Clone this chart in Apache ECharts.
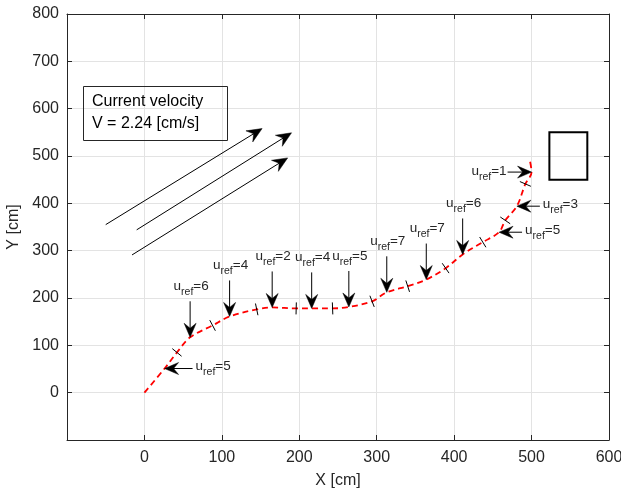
<!DOCTYPE html>
<html><head><meta charset="utf-8">
<script src="https://cdn.jsdelivr.net/npm/echarts@6/dist/echarts.min.js"></script>
<style>html,body{margin:0;padding:0;background:#fff;overflow:hidden}#c{width:621px;height:491px}</style>
</head><body><div id="c"></div>
<script>
// Planned path (red dashed)
const pathX = [0, 26, 42, 59, 88, 110, 145, 165, 196, 216, 243, 264, 294, 313, 340, 364, 389, 411, 437, 458, 466, 481, 492, 500, 498];
const pathY = [0, 51, 85, 117, 142, 161, 176, 180, 178, 178, 178, 181, 193, 212, 225, 239, 263, 292, 318, 339, 364, 394, 441, 466, 489];
// Segment boundary marks on path
const markX = [42, 88, 145, 196, 243, 294, 340, 389, 437, 466, 492];
const markY = [85, 142, 176, 178, 178, 193, 225, 263, 318, 364, 441];
// u_ref annotations (arrow tip on path)
const urefX = [26, 59, 110, 165, 216, 264, 313, 364, 411, 458, 481, 500];
const urefY = [51, 117, 161, 180, 178, 181, 212, 239, 292, 339, 394, 466];
const urefVal = [5, 6, 4, 2, 4, 5, 7, 7, 6, 5, 3, 1];
const urefDir = ['left', 'down', 'down', 'down', 'down', 'down', 'down', 'down', 'down', 'left', 'left', 'right'];
// Current flow arrows
const flowX0 = [-50, -10, -16];
const flowY0 = [355, 344, 291];
const flowX1 = [152, 190, 185];
const flowY1 = [558, 549, 496];
// Target box
const boxX = [523, 572];
const boxY = [450, 550];

const FONT = '"Liberation Sans", Arial, Helvetica, sans-serif';
const DARK = '#262626';

const mctx = document.createElement('canvas').getContext('2d');
function tw(t, size) { mctx.font = size + 'px ' + FONT; return mctx.measureText(t).width; }

function head(tx, ty, dx, dy, len, wid, notch) {
  const px = -dy, py = dx;
  const bx = tx - dx * len, by = ty - dy * len;
  return [[tx, ty], [bx + px * wid / 2, by + py * wid / 2], [tx - dx * (len - notch), ty - dy * (len - notch)], [bx - px * wid / 2, by - py * wid / 2]];
}

const FS = 13.5, FSUB = 10.5;
function labelEls(x, midY, val, anchor) {
  const s1 = 'u', s2 = 'ref', s3 = '=' + val;
  const w1 = tw(s1, FS), w2 = tw(s2, FSUB), w3 = tw(s3, FS);
  const W = w1 + w2 + w3;
  let x0 = x;
  if (anchor === 'center') x0 = x - W / 2;
  else if (anchor === 'right') x0 = x - W;
  const mk = (t, xx, yy, sz) => ({type: 'text', style: {text: t, x: xx, y: yy, font: sz + 'px ' + FONT, fill: DARK, textAlign: 'left', textVerticalAlign: 'middle', align: 'left', verticalAlign: 'middle'}});
  return [mk(s1, x0, midY, FS), mk(s2, x0 + w1, midY + 6, FSUB), mk(s3, x0 + w1 + w2, midY, FS)];
}

const chart = echarts.init(document.getElementById('c'));

const axisCommon = {
  type: 'value', min: -100, max: 600, interval: 100
};

chart.setOption({
  animation: false,
  grid: {left: 67, right: 12, top: 14, bottom: 51, containLabel: false, outerBoundsMode: 'none'},
  xAxis: [
    Object.assign({}, axisCommon, {
      position: 'bottom', name: 'X [cm]', nameLocation: 'middle', nameGap: 33,
      nameTextStyle: {fontFamily: FONT, fontSize: 16, color: DARK},
      axisLine: {show: true, onZero: false, lineStyle: {color: DARK, width: 1}},
      axisTick: {show: true, inside: true, length: 5, lineStyle: {color: DARK}},
      axisLabel: {fontFamily: FONT, fontSize: 16, color: DARK, margin: 10, formatter: v => v === -100 ? '' : String(v)},
      splitLine: {show: true, lineStyle: {color: '#e3e3e3', width: 1}}
    }),
    Object.assign({}, axisCommon, {
      position: 'top',
      axisLine: {show: true, onZero: false, lineStyle: {color: DARK, width: 1}},
      axisTick: {show: true, inside: true, length: 5, lineStyle: {color: DARK}},
      axisLabel: {show: false}, splitLine: {show: false}
    })
  ],
  yAxis: [
    {
      type: 'value', min: -100, max: 800, interval: 100, position: 'left',
      name: 'Y [cm]', nameLocation: 'middle', nameGap: 41, nameRotate: 90,
      nameTextStyle: {fontFamily: FONT, fontSize: 16, color: DARK},
      axisLine: {show: true, onZero: false, lineStyle: {color: DARK, width: 1}},
      axisTick: {show: true, inside: true, length: 5, lineStyle: {color: DARK}},
      axisLabel: {fontFamily: FONT, fontSize: 16, color: DARK, margin: 8, formatter: v => v === -100 ? '' : String(v)},
      splitLine: {show: true, lineStyle: {color: '#e3e3e3', width: 1}}
    },
    {
      type: 'value', min: -100, max: 800, interval: 100, position: 'right',
      axisLine: {show: true, onZero: false, lineStyle: {color: DARK, width: 1}},
      axisTick: {show: true, inside: true, length: 5, lineStyle: {color: DARK}},
      axisLabel: {show: false}, splitLine: {show: false}
    }
  ],
  graphic: [
    {type: 'rect', shape: {x: 83.5, y: 86.5, width: 144, height: 54}, style: {fill: 'none', stroke: DARK, lineWidth: 1}, z: 100},
    {type: 'text', style: {text: 'Current velocity', x: 92, y: 102, font: '16px ' + FONT, fill: '#000', textVerticalAlign: 'middle', verticalAlign: 'middle'}, z: 100},
    {type: 'text', style: {text: 'V = 2.24 [cm/s]', x: 92, y: 124, font: '16px ' + FONT, fill: '#000', textVerticalAlign: 'middle', verticalAlign: 'middle'}, z: 100}
  ],
  series: [
    {
      type: 'line', xAxisIndex: 0, yAxisIndex: 0,
      data: pathX.map((x, i) => [x, pathY[i]]),
      smooth: 0.35, showSymbol: false, symbol: 'none',
      lineStyle: {color: '#ff0000', width: 1.8, type: [6, 4]}, z: 3
    },
    {
      type: 'custom', xAxisIndex: 0, yAxisIndex: 0,
      data: markX.map((x, i) => [x, markY[i]]),
      renderItem: function (params, api) {
        const x = api.value(0), y = api.value(1);
        let bi = 0, bd = Infinity;
        for (let i = 0; i < pathX.length; i++) {
          const d = (pathX[i] - x) ** 2 + (pathY[i] - y) ** 2;
          if (d < bd) { bd = d; bi = i; }
        }
        const a = api.coord([pathX[Math.max(bi - 1, 0)], pathY[Math.max(bi - 1, 0)]]);
        const b = api.coord([pathX[Math.min(bi + 1, pathX.length - 1)], pathY[Math.min(bi + 1, pathX.length - 1)]]);
        const c = api.coord([x, y]);
        let dx = b[0] - a[0], dy = b[1] - a[1];
        const L = Math.hypot(dx, dy); dx /= L; dy /= L;
        const nx = -dy, ny = dx, h = 6;
        return {type: 'line', shape: {x1: c[0] - nx * h, y1: c[1] - ny * h, x2: c[0] + nx * h, y2: c[1] + ny * h}, style: {stroke: '#000', lineWidth: 1}};
      }, z: 4
    },
    {
      type: 'custom', xAxisIndex: 0, yAxisIndex: 0,
      data: urefX.map((x, i) => [x, urefY[i], i]),
      renderItem: function (params, api) {
        const i = api.value(2);
        const t = api.coord([api.value(0), api.value(1)]);
        const dir = urefDir[i];
        let dx, dy, len, tail;
        if (dir === 'down') { dx = 0; dy = 1; len = 36; }
        else if (dir === 'left') { dx = -1; dy = 0; len = (i === 0 ? 28 : 23); }
        else { dx = 1; dy = 0; len = 24; }
        tail = [t[0] - dx * len, t[1] - dy * len];
        const els = [
          {type: 'line', shape: {x1: tail[0], y1: tail[1], x2: t[0] - dx * 8, y2: t[1] - dy * 8}, style: {stroke: '#000', lineWidth: 1}},
          {type: 'polygon', shape: {points: head(t[0], t[1], dx, dy, 14, 12, 5)}, style: {fill: '#000', stroke: '#000', lineWidth: 0.5}}
        ];
        let labs;
        if (dir === 'down') labs = labelEls(tail[0] + 1, tail[1] - 15, urefVal[i], 'center');
        else if (dir === 'left') labs = labelEls(tail[0] + 3, t[1] - 2, urefVal[i], 'left');
        else labs = labelEls(tail[0] - 1, t[1] - 1, urefVal[i], 'right');
        return {type: 'group', children: els.concat(labs)};
      }, z: 5
    },
    {
      type: 'custom', xAxisIndex: 0, yAxisIndex: 0,
      data: flowX0.map((x, i) => [x, flowY0[i], flowX1[i], flowY1[i]]),
      renderItem: function (params, api) {
        const s = api.coord([api.value(0), api.value(1)]);
        const e = api.coord([api.value(2), api.value(3)]);
        let dx = e[0] - s[0], dy = e[1] - s[1];
        const L = Math.hypot(dx, dy); dx /= L; dy /= L;
        return {type: 'group', children: [
          {type: 'line', shape: {x1: s[0], y1: s[1], x2: e[0] - dx * 8, y2: e[1] - dy * 8}, style: {stroke: '#000', lineWidth: 1}},
          {type: 'polygon', shape: {points: head(e[0], e[1], dx, dy, 15, 13, 5)}, style: {fill: '#000', stroke: '#000', lineWidth: 0.5}}
        ]};
      }, z: 5
    },
    {
      type: 'custom', xAxisIndex: 0, yAxisIndex: 0,
      data: [[boxX[0], boxY[0], boxX[1], boxY[1]]],
      renderItem: function (params, api) {
        const a = api.coord([api.value(0), api.value(3)]);
        const b = api.coord([api.value(2), api.value(1)]);
        return {type: 'rect', shape: {x: a[0], y: a[1], width: b[0] - a[0], height: b[1] - a[1]}, style: {fill: 'none', stroke: '#000', lineWidth: 2}};
      }, z: 5
    }
  ]
});
</script>
</body></html>
